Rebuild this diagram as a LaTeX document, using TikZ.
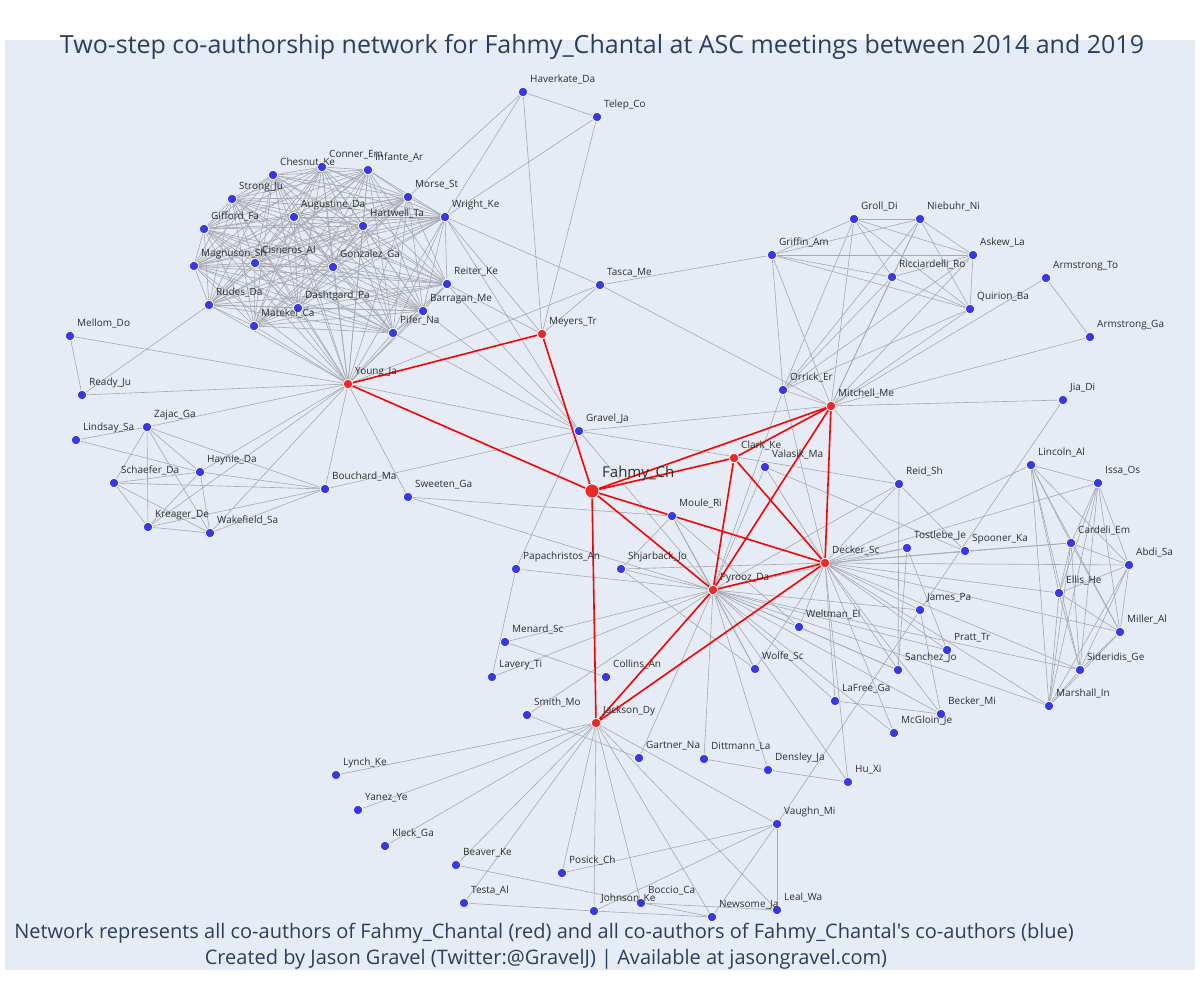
\documentclass[tikz,border=0pt]{standalone}
\usepackage{fontspec}
\setmainfont{Open Sans}[Ligatures=TeXOff]
\definecolor{nodeblue}{RGB}{55,55,240}
\definecolor{nodered}{RGB}{240,40,40}
\definecolor{edgegray}{RGB}{168,168,174}
\definecolor{plotbg}{RGB}{229,236,246}
\definecolor{titlecol}{RGB}{42,63,95}
\pgfdeclarelayer{bglayer}
\pgfdeclarelayer{edgelayer}
\pgfsetlayers{bglayer,edgelayer,main}
\tikzset{
  bnode/.style={circle, fill=nodeblue, draw=white, line width=0.7pt, minimum size=9.5pt, inner sep=0pt},
  rnode/.style={circle, fill=nodered, draw=white, line width=0.7pt, minimum size=9.5pt, inner sep=0pt},
  bignode/.style={circle, fill=nodered, draw=white, line width=0.7pt, minimum size=14pt, inner sep=0pt},
  lab/.style={anchor=base west, inner sep=0pt, font=\fontsize{10}{12}\selectfont, text=black!82},
  biglab/.style={anchor=base west, inner sep=0pt, font=\fontsize{15}{18}\selectfont, text=black!82},
  gedge/.style={draw=edgegray, line width=0.6pt},
  redge/.style={draw=red, line width=1.6pt},
  titletext/.style={anchor=base, inner sep=0pt, font=\fontsize{25}{30}\selectfont, text=titlecol},
  foottext/.style={anchor=base, inner sep=0pt, font=\fontsize{20}{24}\selectfont, text=titlecol},
}
\newcommand\bn[4]{\node[bnode] (#1) at (#3,#4) {}; \node[lab] (#1l) at ({#3+7},{#4-9.5}) {#2};}
\newcommand\rn[4]{\node[rnode] (#1) at (#3,#4) {}; \node[lab] (#1l) at ({#3+7},{#4-9.5}) {#2};}
\begin{document}
\begin{tikzpicture}[x=1pt,y=-1pt]
\useasboundingbox (0,0) rectangle (1200,1000);
\begin{pgfonlayer}{bglayer}
\fill[white] (0,0) rectangle (1200,1000);
\fill[plotbg] (5,40) rectangle (1195,970);
\end{pgfonlayer}

% blue nodes
\bn{Haverkate}{Haverkate\_Da}{523}{92}
\bn{Telep}{Telep\_Co}{597}{117}
\bn{Chesnut}{Chesnut\_Ke}{273}{175}
\bn{Conner}{Conner\_Em}{322}{167}
\bn{Infante}{Infante\_Ar}{368}{170}
\bn{Strong}{Strong\_Ju}{232}{199}
\bn{Morse}{Morse\_St}{408}{197}
\bn{Wright}{Wright\_Ke}{445}{217}
\bn{Augustine}{Augustine\_Da}{294}{217}
\bn{Hartwell}{Hartwell\_Ta}{363}{226}
\bn{Gifford}{Gifford\_Fa}{204}{229}
\bn{Magnuson}{Magnuson\_Sh}{194}{266}
\bn{Cisneros}{Cisneros\_Al}{255}{263}
\bn{Gonzalez}{Gonzalez\_Ga}{333}{267}
\bn{Reiter}{Reiter\_Ke}{447}{284}
\bn{Rudes}{Rudes\_Da}{209}{305}
\bn{Dashtgard}{Dashtgard\_Pa}{298}{308}
\bn{Barragan}{Barragan\_Me}{423}{311}
\bn{Mateke}{Matekel\_Ca}{254}{326}
\bn{Pifer}{Pifer\_Na}{393}{333}
\bn{Mellom}{Mellom\_Do}{70}{336}
\bn{Tasca}{Tasca\_Me}{600}{285}
\bn{Ready}{Ready\_Ju}{82}{395}
\bn{Zajac}{Zajac\_Ga}{147}{427}
\bn{Lindsay}{Lindsay\_Sa}{76}{440}
\bn{Gravel}{Gravel\_Ja}{579}{431}
\bn{Haynie}{Haynie\_Da}{200}{472}
\bn{Schaefer}{Schaefer\_Da}{114}{483}
\bn{Bouchard}{Bouchard\_Ma}{325}{489}
\bn{Sweeten}{Sweeten\_Ga}{408}{497}
\bn{Kreager}{Kreager\_De}{148}{527}
\bn{Wakefield}{Wakefield\_Sa}{210}{533}
\bn{Groll}{Groll\_Di}{854}{219}
\bn{Niebuhr}{Niebuhr\_Ni}{920}{219}
\bn{Griffin}{Griffin\_Am}{772}{255}
\bn{Askew}{Askew\_La}{973}{255}
\bn{Ricciardelli}{Ricciardelli\_Ro}{892}{277}
\bn{ArmstrongTo}{Armstrong\_To}{1046}{278}
\bn{Quirion}{Quirion\_Ba}{970}{309}
\bn{ArmstrongGa}{Armstrong\_Ga}{1090}{337}
\bn{Orrick}{Orrick\_Er}{783}{390}
\bn{Jia}{Jia\_Di}{1063}{400}
\bn{Valasik}{Valasik\_Ma}{765}{467}
\bn{Moule}{Moule\_Ri}{672}{516}
\bn{Reid}{Reid\_Sh}{899}{484}
\bn{Lincoln}{Lincoln\_Al}{1031}{465}
\bn{Issa}{Issa\_Os}{1098}{483}
\bn{Tostlebe}{Tostlebe\_Je}{907}{548}
\bn{Spooner}{Spooner\_Ka}{965}{551}
\bn{Cardeli}{Cardeli\_Em}{1071}{543}
\bn{Abdi}{Abdi\_Sa}{1129}{565}
\bn{Papachristos}{Papachristos\_An}{516}{569}
\bn{Shjarback}{Shjarback\_Jo}{621}{569}
\bn{Ellis}{Ellis\_He}{1059}{593}
\bn{James}{James\_Pa}{920}{610}
\bn{Weltman}{Weltman\_El}{799}{627}
\bn{Miller}{Miller\_Al}{1120}{632}
\bn{Menard}{Menard\_Sc}{505}{642}
\bn{Pratt}{Pratt\_Tr}{947}{650}
\bn{Wolfe}{Wolfe\_Sc}{755}{669}
\bn{Sanchez}{Sanchez\_Jo}{898}{670}
\bn{Sideridis}{Sideridis\_Ge}{1080}{670}
\bn{Lavery}{Lavery\_Ti}{492}{677}
\bn{Collins}{Collins\_An}{606}{677}
\bn{LaFree}{LaFree\_Ga}{835}{701}
\bn{Marshall}{Marshall\_In}{1049}{706}
\bn{Becker}{Becker\_Mi}{941}{714}
\bn{Smith}{Smith\_Mo}{527}{715}
\bn{McGloin}{McGloin\_Je}{894}{733}
\bn{Gartner}{Gartner\_Na}{639}{758}
\bn{Dittmann}{Dittmann\_La}{704}{759}
\bn{Densley}{Densley\_Ja}{768}{770}
\bn{Lynch}{Lynch\_Ke}{336}{775}
\bn{HuXi}{Hu\_Xi}{848}{782}
\bn{Yanez}{Yanez\_Ye}{358}{810}
\bn{Vaughn}{Vaughn\_Mi}{777}{824}
\bn{Kleck}{Kleck\_Ga}{385}{846}
\bn{Beaver}{Beaver\_Ke}{456}{865}
\bn{Posick}{Posick\_Ch}{562}{873}
\bn{Testa}{Testa\_Al}{464}{903}
\bn{Boccio}{Boccio\_Ca}{641}{903}
\bn{Leal}{Leal\_Wa}{777}{910}
\bn{Johnson}{Johnson\_Ke}{594}{911}
\bn{Newsome}{Newsome\_Ja}{712}{917}

% red nodes
\rn{Meyers}{Meyers\_Tr}{542}{334}
\rn{Young}{Young\_Ja}{348}{384}
\rn{Mitchell}{Mitchell\_Me}{831}{406}
\rn{Clark}{Clark\_Ke}{734}{458}
\rn{Decker}{Decker\_Sc}{825}{563}
\rn{Pyrooz}{Pyrooz\_Da}{713}{590}
\rn{Jackson}{Jackson\_Dy}{596}{723}
\node[bignode] (Fahmy) at (592,491) {};
\node[biglab] (Fahmyl) at (602,477) {Fahmy\_Ch};

% titles
\node[titletext] (title) at (602,54) {Two-step co-authorship network for Fahmy\_Chantal at ASC meetings between 2014 and 2019};
\node[foottext] (foot1) at (544,938) {Network represents all co-authors of Fahmy\_Chantal (red) and all co-authors of Fahmy\_Chantal's co-authors (blue)};
\node[foottext] (foot2) at (546,964) {Created by Jason Gravel (Twitter:@GravelJ) | Available at jasongravel.com)};

\begin{pgfonlayer}{edgelayer}
% dense cluster (top left)
\foreach \a [count=\i] in {Chesnut,Conner,Infante,Strong,Morse,Wright,Augustine,Hartwell,Gifford,Magnuson,Cisneros,Gonzalez,Reiter,Rudes,Dashtgard,Barragan,Mateke,Pifer,Young}{
  \foreach \b [count=\j] in {Chesnut,Conner,Infante,Strong,Morse,Wright,Augustine,Hartwell,Gifford,Magnuson,Cisneros,Gonzalez,Reiter,Rudes,Dashtgard,Barragan,Mateke,Pifer,Young}{
    \ifnum\j>\i \draw[gedge] (\a) -- (\b); \fi
  }
}
% cluster (top right)
\foreach \a [count=\i] in {Groll,Niebuhr,Griffin,Askew,Ricciardelli,Quirion,Orrick,Mitchell}{
  \foreach \b [count=\j] in {Groll,Niebuhr,Griffin,Askew,Ricciardelli,Quirion,Orrick,Mitchell}{
    \ifnum\j>\i \draw[gedge] (\a) -- (\b); \fi
  }
}
% cluster (right)
\foreach \a [count=\i] in {Lincoln,Issa,Cardeli,Abdi,Ellis,Miller,Sideridis,Marshall}{
  \foreach \b [count=\j] in {Lincoln,Issa,Cardeli,Abdi,Ellis,Miller,Sideridis,Marshall}{
    \ifnum\j>\i \draw[gedge] (\a) -- (\b); \fi
  }
}
\foreach \a/\b in {
  Young/Mellom, Young/Ready, Young/Zajac, Young/Haynie, Young/Kreager, Young/Wakefield,
  Young/Bouchard, Young/Sweeten, Young/Tasca, Young/Gravel,
  Meyers/Haverkate, Meyers/Telep, Meyers/Tasca, Meyers/Wright, Meyers/Reiter,
  Wright/Haverkate, Wright/Telep, Wright/Tasca, Wright/Gravel,
  Haverkate/Telep, Haverkate/Morse,
  Reiter/Gravel, Pifer/Gravel, Barragan/Gravel,
  Tasca/Griffin, Tasca/Mitchell,
  Mellom/Ready, Ready/Rudes,
  Lindsay/Zajac, Lindsay/Haynie,
  Zajac/Schaefer, Zajac/Kreager, Zajac/Haynie, Zajac/Wakefield, Zajac/Bouchard,
  Schaefer/Haynie, Schaefer/Bouchard, Schaefer/Kreager, Schaefer/Wakefield,
  Haynie/Kreager, Haynie/Wakefield, Haynie/Bouchard,
  Kreager/Wakefield, Kreager/Bouchard, Wakefield/Bouchard,
  Bouchard/Gravel,
  Sweeten/Moule, Sweeten/Pyrooz,
  Gravel/Mitchell, Gravel/Papachristos, Gravel/Pyrooz, Gravel/Reid,
  ArmstrongTo/ArmstrongGa, ArmstrongTo/Mitchell, ArmstrongGa/Mitchell,
  Mitchell/Jia, Mitchell/Reid, Jia/James,
  Orrick/Pyrooz, Orrick/Decker,
  Valasik/Pyrooz, Valasik/Decker, Valasik/Spooner,
  Moule/Pyrooz, Moule/Shjarback, Moule/Wolfe, Moule/Weltman,
  Shjarback/Decker, Shjarback/Wolfe, Shjarback/Pyrooz,
  Papachristos/Lavery, Papachristos/Pyrooz,
  Menard/Collins, Menard/Pyrooz, Lavery/Pyrooz,
  Smith/Pyrooz, Smith/Gartner,
  Pyrooz/Tostlebe, Pyrooz/James, Pyrooz/Pratt, Pyrooz/Sanchez, Pyrooz/Becker, Pyrooz/McGloin,
  Pyrooz/LaFree, Pyrooz/Weltman, Pyrooz/Wolfe, Pyrooz/Gartner, Pyrooz/Dittmann, Pyrooz/Densley,
  Pyrooz/HuXi, Pyrooz/Marshall, Pyrooz/Sideridis, Pyrooz/Reid,
  Decker/Reid, Decker/Tostlebe, Decker/Spooner, Decker/Lincoln, Decker/Issa, Decker/Cardeli,
  Decker/Abdi, Decker/Ellis, Decker/Miller, Decker/Sideridis, Decker/Marshall, Decker/James,
  Decker/Pratt, Decker/Sanchez, Decker/Becker, Decker/McGloin, Decker/LaFree, Decker/Weltman,
  Decker/Wolfe, Decker/HuXi,
  Reid/Sanchez, Reid/Spooner,
  Tostlebe/Sanchez, Tostlebe/Pratt,
  James/Becker, James/Vaughn,
  Spooner/Cardeli, LaFree/Becker, Weltman/Sanchez,
  Jackson/Lynch, Jackson/Yanez, Jackson/Kleck, Jackson/Beaver, Jackson/Testa, Jackson/Posick,
  Jackson/Johnson, Jackson/Boccio, Jackson/Newsome, Jackson/Leal, Jackson/Vaughn,
  Vaughn/Posick, Vaughn/Johnson, Vaughn/Newsome, Vaughn/Leal,
  Beaver/Newsome, Testa/Johnson, Johnson/Newsome, Boccio/Leal,
  Dittmann/Densley, Densley/HuXi}
  {\draw[gedge] (\a) -- (\b);}
% red edges
\foreach \a/\b in {
  Fahmy/Young, Fahmy/Meyers, Young/Meyers, Fahmy/Clark, Fahmy/Mitchell, Clark/Mitchell,
  Fahmy/Decker, Fahmy/Pyrooz, Fahmy/Jackson, Clark/Pyrooz, Clark/Decker,
  Mitchell/Pyrooz, Mitchell/Decker, Pyrooz/Decker, Jackson/Pyrooz, Jackson/Decker}
  {\draw[redge] (\a) -- (\b);}
\end{pgfonlayer}
\end{tikzpicture}
\end{document}
